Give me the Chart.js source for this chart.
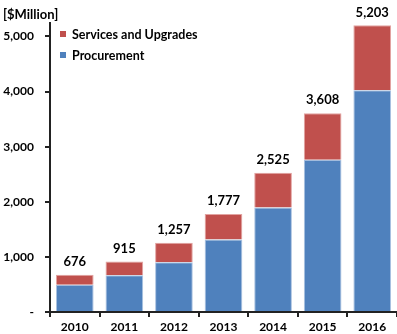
<!DOCTYPE html>
<html>
<head>
<meta charset="utf-8">
<script src="https://cdn.jsdelivr.net/npm/chart.js"></script>
<style>
  body { margin: 0; background: #fff; }
  #wrap { position: relative; width: 397px; height: 334px; }
  #unit { position: absolute; left: 3px; top: 6px; font: bold 13px Lato, sans-serif; color: #000; }
  #legend { position: absolute; left: 60px; top: 26px; font: bold 12.5px Lato, sans-serif; color: #000; }
  #legend div { height: 21px; line-height: 18px; }
  #legend span { display: inline-block; width: 6px; height: 6px; margin-right: 6px; vertical-align: 2px; }
</style>
</head>
<body>
<div id="wrap">
  <canvas id="chart" width="397" height="334"></canvas>
  <div id="unit">[$Million]</div>
  <div id="legend"></div>
</div>
<script>
// Data
const years = ['2010', '2011', '2012', '2013', '2014', '2015', '2016'];
const procurement = [495, 665, 905, 1318, 1895, 2762, 4025];
const services = [181, 250, 352, 459, 630, 846, 1178];
const totals = [676, 915, 1257, 1777, 2525, 3608, 5203];
const yTicks = [0, 1000, 2000, 3000, 4000, 5000];

const blue = '#4f81bd';
const red = '#c0504d';

// totals above each stack
const totalLabels = {
  id: 'totalLabels',
  afterDatasetsDraw(chart) {
    const ctx = chart.ctx;
    const meta = chart.getDatasetMeta(1);
    ctx.save();
    ctx.font = 'bold 13px Lato, sans-serif';
    ctx.fillStyle = '#000';
    ctx.textAlign = 'center';
    ctx.textBaseline = 'middle';
    meta.data.forEach((bar, i) => {
      ctx.fillText(totals[i].toLocaleString('en-US'), bar.x, bar.y - 13);
    });
    ctx.restore();
  }
};

const chart = new Chart(document.getElementById('chart'), {
  type: 'bar',
  data: {
    labels: years,
    datasets: [
      { label: 'Procurement', data: procurement, backgroundColor: blue, borderColor: '#a9c1e0', borderWidth: 1, categoryPercentage: 0.76, barPercentage: 1 },
      { label: 'Services and Upgrades', data: services, backgroundColor: red, borderColor: '#e2a3a1', borderWidth: 1, categoryPercentage: 0.76, barPercentage: 1 }
    ]
  },
  options: {
    responsive: false,
    animation: false,
    layout: { padding: { top: 23, right: 0, left: 0, bottom: 0 } },
    plugins: { legend: { display: false }, tooltip: { enabled: false } },
    scales: {
      x: {
        stacked: true,
        afterFit(scale) { scale.height = 22; },
        grid: { offset: true, drawOnChartArea: false, drawTicks: true, tickLength: 5, color: '#222', lineWidth: 2 },
        border: { color: '#222', width: 2 },
        ticks: { color: '#000', font: { family: 'Lato', weight: 'bold', size: 12 }, padding: 3 }
      },
      y: {
        stacked: true,
        min: 0,
        max: 5245,
        afterBuildTicks(scale) { scale.ticks = yTicks.map(v => ({ value: v })); },
        afterFit(scale) { scale.width = 50; },
        grid: { drawOnChartArea: false, drawTicks: true, tickLength: 5, color: '#222', lineWidth: 2 },
        border: { color: '#222', width: 2 },
        ticks: {
          color: '#000', font: { family: 'Lato', weight: 'bold', size: 12 }, padding: 11,
          callback: v => v === 0 ? '-' : v.toLocaleString('en-US')
        }
      }
    }
  },
  plugins: [totalLabels]
});

// legend inside plot, services first
document.getElementById('legend').innerHTML = [1, 0].map(i => {
  const ds = chart.data.datasets[i];
  return `<div><span style="background:${ds.backgroundColor}"></span>${ds.label}</div>`;
}).join('');
</script>
</body>
</html>
